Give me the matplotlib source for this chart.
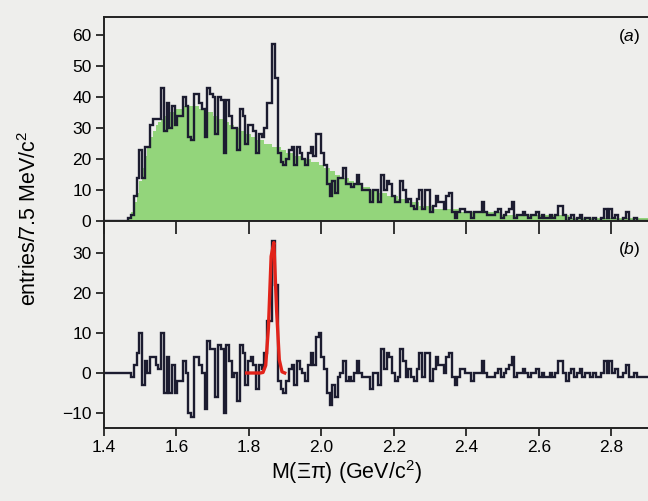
import numpy as np
import matplotlib
matplotlib.use("Agg")
import matplotlib.pyplot as plt

plt.rcParams['font.family'] = ['Liberation Sans', 'DejaVu Sans']
plt.rcParams['mathtext.fontset'] = 'custom'
plt.rcParams['mathtext.rm'] = 'Liberation Sans'
plt.rcParams['mathtext.it'] = 'Liberation Sans:italic'

# ---- data (7.5 MeV bins from 1.4 to 2.9 GeV) ----
x_start = 1.4
bin_width = 0.0075

observed = [
    0, 0, 0, 0, 0, 0, 0, 0, 0, 1,
    2, 8, 14, 23, 14, 24, 24, 31, 33, 33,
    33, 43, 29, 38, 30, 37, 31, 34, 34, 40,
    37, 27, 26, 41, 41, 38, 36, 27, 43, 41,
    40, 28, 40, 39, 22, 39, 34, 30, 30, 23,
    36, 34, 25, 31, 31, 29, 22, 28, 27, 30,
    38, 38, 57, 46, 22, 19, 18, 20, 23, 24,
    18, 24, 22, 20, 18, 22, 24, 21, 28, 28,
    22, 18, 12, 8, 13, 9, 14, 14, 17, 12,
    12, 11, 12, 15, 12, 10, 10, 10, 6, 10,
    10, 6, 15, 10, 13, 12, 8, 6, 6, 13,
    10, 6, 7, 5, 4, 7, 10, 4, 10, 10,
    3, 5, 8, 6, 6, 4, 8, 9, 3, 1,
    3, 4, 4, 3, 3, 1, 3, 3, 3, 6,
    3, 2, 2, 2, 3, 4, 1, 2, 3, 4,
    6, 1, 2, 2, 3, 2, 1, 2, 2, 3,
    1, 2, 1, 1, 2, 1, 2, 5, 5, 2,
    0, 1, 2, 0, 1, 2, 0, 1, 1, 0,
    1, 0, 0, 1, 4, 1, 4, 1, 2, 0,
    0, 1, 3, 0, 0, 1, 0, 0, 0, 0,
]

background = [
    0, 0, 0, 0, 0, 0, 0, 0, 0, 1,
    3, 6, 9, 13, 17, 21, 24, 27, 29, 31,
    32, 33, 34, 34, 35, 35, 36, 36, 36, 37,
    37, 37, 37, 37, 37, 36, 36, 36, 35, 35,
    34, 34, 33, 33, 32, 32, 31, 31, 30, 30,
    29, 29, 28, 28, 27, 27, 26, 26, 26, 25,
    25, 25, 24, 24, 24, 23, 23, 22, 22, 22,
    21, 21, 21, 20, 20, 20, 19, 19, 19, 18,
    18, 17, 17, 16, 16, 15, 15, 14, 14, 14,
    13, 13, 12, 12, 12, 11, 11, 11, 10, 10,
    10, 9, 9, 9, 8, 8, 8, 8, 7, 7,
    7, 7, 6, 6, 6, 6, 5, 5, 5, 5,
    5, 4, 4, 4, 4, 4, 4, 4, 4, 4,
    4, 3, 3, 3, 3, 3, 3, 3, 3, 3,
    3, 3, 3, 3, 3, 3, 2, 2, 2, 2,
    2, 2, 2, 2, 2, 2, 2, 2, 2, 2,
    2, 2, 2, 2, 2, 2, 2, 2, 2, 2,
    2, 1, 1, 1, 1, 1, 1, 1, 1, 1,
    1, 1, 1, 1, 1, 1, 1, 1, 1, 1,
    1, 1, 1, 1, 1, 1, 1, 1, 1, 1,
]

# Gaussian fit parameters (panel b)
fit_amp = 34.5
fit_mean = 1.866
fit_sigma = 0.0082
fit_range = (1.790, 1.900)

x_ticks = [1.4, 1.6, 1.8, 2.0, 2.2, 2.4, 2.6, 2.8]
x_ticklabels = ['1.4', '1.6', '1.8', '2.0', '2.2', '2.4', '2.6', '2.8']
top_yticks = [0, 10, 20, 30, 40, 50, 60]
bot_yticks = [-10, 0, 10, 20, 30]

# ---- derived ----
observed = np.array(observed, float)
background = np.array(background, float)
edges = x_start + bin_width * np.arange(len(observed) + 1)
residual = observed - background
centers = 0.5 * (edges[:-1] + edges[1:])

# ---- style ----
paper = '#eeeeec'
line_col = '#1c1c30'
green = '#93d57b'
fs = 12.5
fs_lab = 15.5

W, H = 648, 501
fig = plt.figure(figsize=(W / 100, H / 100), dpi=100, facecolor=paper)

x_left = 104 / W
x_max = 1.4 + (W - 104) / 361.5
ax_a = fig.add_axes([x_left, 1 - 221 / H, 1 - x_left + 0.002, (221 - 17) / H], facecolor=paper)
ax_b = fig.add_axes([x_left, 1 - 428 / H, 1 - x_left + 0.002, (428 - 221) / H], facecolor=paper)

# panel a
ax_a.stairs(background, edges, fill=True, color=green, linewidth=0)
ax_a.stairs(observed, edges, color=line_col, linewidth=1.7, baseline=None)
ax_a.set_xlim(1.4, x_max)
ax_a.set_ylim(0, (221 - 17) / 3.1)
ax_a.set_yticks(top_yticks)
ax_a.set_xticks([])
ax_a.tick_params(axis='y', direction='out', length=6, width=1.1, labelsize=fs, pad=3)
ax_a.text(0.963, 0.902, r'($\mathit{a}$)', transform=ax_a.transAxes, fontsize=fs,
          ha='center', va='center')

# panel b
ax_b.stairs(residual, edges, color=line_col, linewidth=1.7, baseline=None)
fit_x = centers[(centers >= fit_range[0]) & (centers <= fit_range[1])]
fit_y = fit_amp * np.exp(-0.5 * ((fit_x - fit_mean) / fit_sigma) ** 2)
ax_b.plot(fit_x, fit_y, color='#e2231a', linewidth=2.4, solid_joinstyle='round', zorder=3)
ax_b.set_xlim(1.4, x_max)
ax_b.set_ylim((373 - 428) / 4, (373 - 221) / 4)
ax_b.set_yticks(bot_yticks)
ax_b.set_yticklabels(['\u221210', '0', '10', '20', '30'])
ax_b.set_xticks(x_ticks)
ax_b.set_xticklabels(x_ticklabels)
ax_b.tick_params(axis='y', direction='out', length=6, width=1.1, labelsize=fs, pad=3)
ax_b.tick_params(axis='x', direction='out', length=6, width=1.1, labelsize=fs, pad=3)
ax_b.text(0.963, 0.86, r'($\mathit{b}$)', transform=ax_b.transAxes, fontsize=fs,
          ha='center', va='center')
# inward ticks on the shared boundary
sec = ax_b.secondary_xaxis('top')
sec.set_xticks(x_ticks)
sec.set_xticklabels([])
sec.tick_params(direction='in', length=9, width=1.1)
sec.spines['top'].set_visible(False)

for ax in (ax_a, ax_b):
    ax.spines['right'].set_visible(False)
    for s in ('left', 'top', 'bottom'):
        ax.spines[s].set_linewidth(1.4)
        ax.spines[s].set_color('#222222')

fig.text(346 / W, 1 - 472 / H, 'M(\u039e\u03c0) (GeV/c$^{2}$)', ha='center', va='center',
         fontsize=fs_lab)
fig.text(30 / W, 1 - 218 / H, r'entries/7.5 MeV/c$^{2}$', rotation=90,
         ha='center', va='center', fontsize=fs_lab)

fig.savefig('out.png', dpi=100, facecolor=paper)
